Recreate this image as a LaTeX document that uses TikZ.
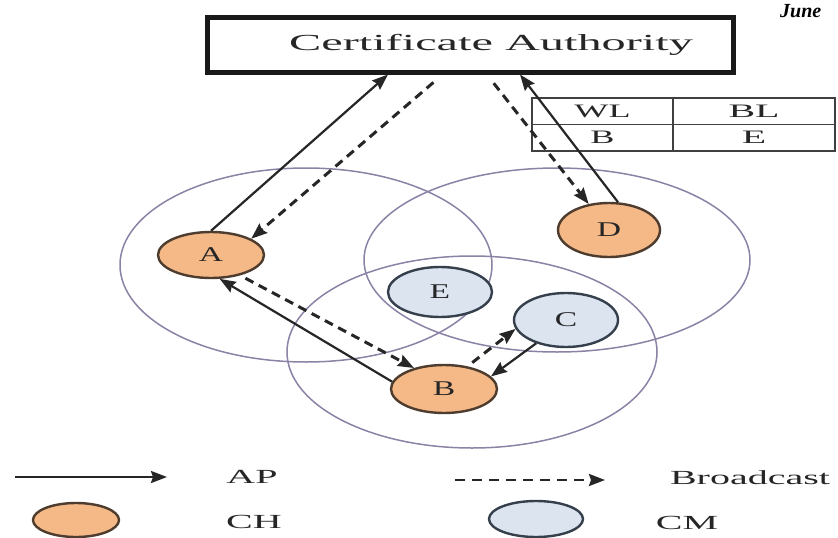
\documentclass[tikz,border=0pt]{standalone}
\usepackage{fontspec}
\setmainfont{Liberation Serif}
\usetikzlibrary{shapes.geometric,arrows.meta,positioning}
\newcommand{\stretched}[2][2]{\scalebox{#1}[1]{#2}}

\definecolor{chfill}{HTML}{F5B887}
\definecolor{chline}{HTML}{4E3C2E}
\definecolor{cmfill}{HTML}{DCE4F0}
\definecolor{cmline}{HTML}{36404C}
\definecolor{zoneline}{HTML}{8C82A6}
\definecolor{inkgray}{HTML}{262626}

\begin{document}
\begin{tikzpicture}[x=1pt,y=-1pt,
  headnode/.style={ellipse,draw=chline,line width=2.4pt,fill=chfill,inner sep=0pt,text=inkgray,font=\fontsize{21}{24}\selectfont},
  membernode/.style={headnode,draw=cmline,fill=cmfill},
  zone/.style={draw=zoneline,line width=1.5pt},
  ap/.style={draw=black!85,line width=2.2pt,-{Stealth[length=16pt,width=12pt,inset=2pt]}},
  bcast/.style={ap,line width=3pt,dash pattern=on 9pt off 6pt,shorten <=6pt},
  cell/.style={draw=black!75,line width=1.8pt,minimum height=26.5pt,inner sep=0pt,text=inkgray,font=\fontsize{19}{22}\selectfont},
  lbl/.style={inner sep=0pt,text=inkgray,font=\fontsize{20}{23}\selectfont}]
\path[use as bounding box,fill=white] (0,0) rectangle (838,538);
\clip (0,0) rectangle (838,538);

% radio ranges
\draw[zone] (306,265) ellipse [x radius=186pt,y radius=97pt];
\draw[zone] (557,260) ellipse [x radius=193pt,y radius=92pt];
\draw[zone] (472,352) ellipse [x radius=185pt,y radius=96pt];

\node[anchor=base west,inner sep=0pt,font=\fontsize{20}{22}\selectfont\bfseries\itshape] (month) at (780,17) {June};

\node[draw=black!90,line width=5pt,minimum width=526pt,minimum height=55pt,inner sep=0pt,text=inkgray,font=\fontsize{23}{26}\selectfont] (ca) at (470,44.5) {\hspace*{42pt}\stretched[2.1]{Certificate Authority}};

% lists
\node[cell,minimum width=141pt] (wl) at (602.5,111.25) {\stretched[1.9]{WL}};
\node[cell,minimum width=162pt] (bl) at (754,111.25) {\stretched[2.1]{BL}};
\node[cell,minimum width=141pt] (wlv) at (602.5,137.75) {\stretched[1.9]{B}};
\node[cell,minimum width=162pt] (blv) at (754,137.75) {\stretched[2.1]{E}};

\node[headnode,minimum width=106pt,minimum height=46pt] (A) at (211,255) {\stretched[1.6]{A}};
\node[headnode,minimum width=102pt,minimum height=54pt] (D) at (609,230) {\stretched[1.6]{D}};
\node[membernode,minimum width=104pt,minimum height=50pt] (E) at (440,292) {\stretched[1.6]{E}};
\node[membernode,minimum width=104pt,minimum height=54pt] (C) at (566,320) {\stretched[1.6]{C}};
\node[headnode,minimum width=106pt,minimum height=48pt] (B) at (444,389) {\stretched[1.6]{B}};

\draw[ap] (A.north) -- ([xshift=-82pt]ca.south);
\draw[bcast] ([xshift=-32pt,yshift=-4pt]ca.south) -- (A.22);
\draw[bcast] ([xshift=20pt,yshift=-4pt]ca.south) -- (D.128);
\draw[ap] (D.72) -- ([xshift=50pt]ca.south);
\draw[bcast] (A.-35) -- (B.145);
\draw[ap] (B.172) -- (A.-70);
\draw[bcast] (B.44) -- (C.190);
\draw[ap] (C.218) -- (B.15);

% legend
\coordinate (ap0) at (15,477);
\coordinate (ap1) at (167,477);
\draw[ap] (ap0) -- (ap1);
\node[lbl] (aptxt) at (252,477) {\stretched{AP}};
\coordinate (bc0) at (455,480);
\coordinate (bc1) at (605,480);
\draw[bcast,line width=2.4pt,dash pattern=on 10pt off 7pt,shorten <=0pt] (bc0) -- (bc1);
\node[lbl] (bctxt) at (750,478) {\stretched{Broadcast}};
\node[headnode,minimum width=86pt,minimum height=34pt] (chkey) at (76,520) {};
\node[lbl] (chtxt) at (254,522) {\stretched{CH}};
\node[membernode,minimum width=94pt,minimum height=36pt] (cmkey) at (536,519) {};
\node[lbl] (cmtxt) at (687,523) {\stretched{CM}};
\end{tikzpicture}
\end{document}
